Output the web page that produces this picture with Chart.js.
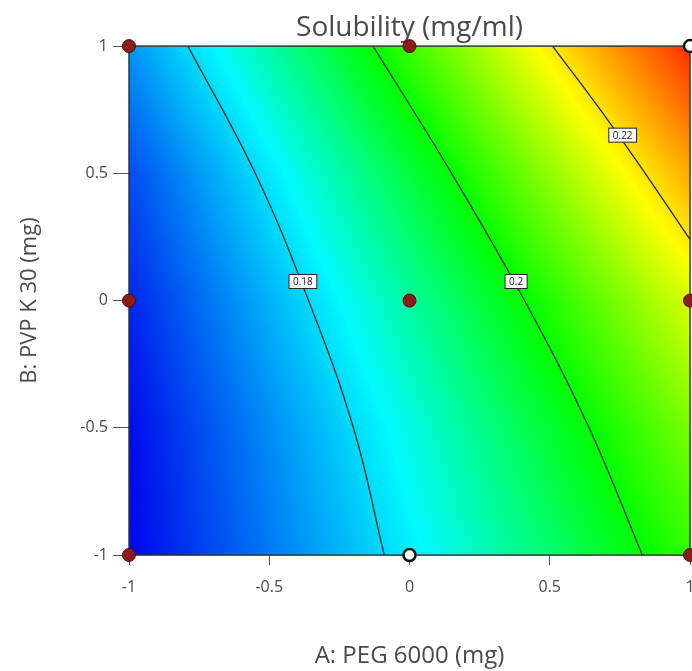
<!DOCTYPE html>
<html>
<head>
<meta charset="utf-8">
<script src="https://cdn.jsdelivr.net/npm/chart.js@4.4.1/dist/chart.umd.min.js"></script>
<style>
  body { margin: 0; overflow: hidden; background: #fff; }
  #wrap { width: 740px; height: 671px; }
</style>
</head>
<body>
<div id="wrap"><canvas id="my-chart"></canvas></div>
<script>
// coded factor levels of the grid
const gridA = [-1, -0.5, 0, 0.5, 1];
const gridB = [-1, -0.5, 0, 0.5, 1];
// solubility (mg/ml) read at the grid nodes, rows = B from -1 to 1, columns = A
const solubility = [
  [0.1603, 0.1711, 0.1819, 0.1927, 0.2035],
  [0.1610, 0.1729, 0.1848, 0.1967, 0.2086],
  [0.1634, 0.1764, 0.1894, 0.2023, 0.2153],
  [0.1670, 0.1814, 0.1958, 0.2102, 0.2246],
  [0.1736, 0.1888, 0.2041, 0.2194, 0.2346]
];

// contour lines
const contourLevels = ['0.18', '0.2', '0.22'];
const contour018A = [-0.79, -0.55, -0.36, -0.20, -0.09];
const contour018B = [1, 0.5, 0, -0.5, -1];
const contour020A = [-0.13, 0.15, 0.41, 0.64, 0.83];
const contour020B = [1, 0.5, 0, -0.5, -1];
const contour022A = [0.51, 0.68, 0.84, 1];
const contour022B = [1, 0.75, 0.5, 0.24];
const labelA = [-0.38, 0.38, 0.76];
const labelB = [0.075, 0.075, 0.65];

// design points
const runA = [-1, 0, 1, -1, 0, 1, -1, 0, 1];
const runB = [1, 1, 1, 0, 0, 0, -1, -1, -1];
const runType = ['dot', 'dot', 'open', 'dot', 'dot', 'dot', 'dot', 'open', 'dot'];

const tickValues = [-1, -0.5, 0, 0.5, 1];

// colour ramp blue -> cyan -> green -> yellow -> red
const ramp = [
  [0.160, [0, 0, 235]],
  [0.183, [0, 250, 255]],
  [0.200, [0, 255, 0]],
  [0.218, [255, 255, 0]],
  [0.235, [255, 40, 0]]
];

function colorFor(v) {
  if (v <= ramp[0][0]) return ramp[0][1];
  for (let i = 1; i < ramp.length; i++) {
    if (v <= ramp[i][0]) {
      const t = (v - ramp[i - 1][0]) / (ramp[i][0] - ramp[i - 1][0]);
      const c0 = ramp[i - 1][1], c1 = ramp[i][1];
      return [c0[0] + (c1[0] - c0[0]) * t, c0[1] + (c1[1] - c0[1]) * t, c0[2] + (c1[2] - c0[2]) * t];
    }
  }
  return ramp[ramp.length - 1][1];
}

function lookup(a, b) {
  const n = gridA.length - 1;
  let fi = (a - gridA[0]) / (gridA[n] - gridA[0]) * n;
  let fj = (b - gridB[0]) / (gridB[n] - gridB[0]) * n;
  fi = Math.min(Math.max(fi, 0), n); fj = Math.min(Math.max(fj, 0), n);
  const i = Math.min(Math.floor(fi), n - 1), j = Math.min(Math.floor(fj), n - 1);
  const u = fi - i, w = fj - j;
  const s = solubility;
  return s[j][i] * (1 - u) * (1 - w) + s[j][i + 1] * u * (1 - w) +
         s[j + 1][i] * (1 - u) * w + s[j + 1][i + 1] * u * w;
}

const surfacePlugin = {
  id: 'surface',
  beforeDatasetsDraw(chart) {
    const { ctx, chartArea: a, scales } = chart;
    const w = Math.round(a.right - a.left), h = Math.round(a.bottom - a.top);
    const off = document.createElement('canvas');
    off.width = w; off.height = h;
    const octx = off.getContext('2d');
    const img = octx.createImageData(w, h);
    for (let j = 0; j < h; j++) {
      const vb = scales.y.getValueForPixel(a.top + j + 0.5);
      for (let i = 0; i < w; i++) {
        const va = scales.x.getValueForPixel(a.left + i + 0.5);
        const c = colorFor(lookup(va, vb));
        const k = (j * w + i) * 4;
        img.data[k] = c[0]; img.data[k + 1] = c[1]; img.data[k + 2] = c[2]; img.data[k + 3] = 255;
      }
    }
    octx.putImageData(img, 0, 0);
    ctx.drawImage(off, a.left, a.top);
    ctx.save();
    ctx.strokeStyle = '#2f3b33';
    ctx.lineWidth = 1.5;
    ctx.strokeRect(a.left, a.top, w, h);
    ctx.restore();
  },
  afterDatasetsDraw(chart) {
    const { ctx, scales } = chart;
    ctx.save();
    ctx.font = '10px "Open Sans"';
    ctx.textAlign = 'center';
    ctx.textBaseline = 'middle';
    contourLevels.forEach((txt, i) => {
      const px = scales.x.getPixelForValue(labelA[i]);
      const py = scales.y.getPixelForValue(labelB[i]);
      const tw = ctx.measureText(txt).width + 8;
      ctx.fillStyle = '#ffffff';
      ctx.fillRect(px - tw / 2, py - 7, tw, 14);
      ctx.strokeStyle = '#222';
      ctx.lineWidth = 1;
      ctx.strokeRect(px - tw / 2, py - 7, tw, 14);
      ctx.fillStyle = '#222';
      ctx.fillText(txt, px, py + 0.5);
    });
    ctx.restore();
  }
};

function contourSet(xs, ys) {
  return {
    type: 'line',
    data: xs.map((v, i) => ({ x: v, y: ys[i] })),
    borderColor: '#1f2b24',
    borderWidth: 1.3,
    pointRadius: 0,
    tension: 0.4,
    fill: false
  };
}

const textColor = '#4a4a4a';

new Chart(document.getElementById('my-chart'), {
  type: 'scatter',
  data: {
    datasets: [
      contourSet(contour018A, contour018B),
      contourSet(contour020A, contour020B),
      contourSet(contour022A, contour022B),
      {
        type: 'scatter',
        data: runA.map((v, i) => ({ x: v, y: runB[i] })),
        pointRadius: runType.map(t => t === 'dot' ? 6.5 : 6),
        pointBackgroundColor: runType.map(t => t === 'dot' ? '#8c1b1b' : '#ffffff'),
        pointBorderColor: runType.map(t => t === 'dot' ? '#4d0f0f' : '#111111'),
        pointBorderWidth: runType.map(t => t === 'dot' ? 1 : 2.5),
        clip: false
      }
    ]
  },
  options: {
    responsive: true,
    maintainAspectRatio: false,
    animation: false,
    layout: { padding: { left: 0, right: 50, top: 0, bottom: 0 } },
    plugins: {
      legend: { display: false },
      tooltip: { enabled: false },
      title: {
        display: true,
        fullSize: false,
        text: 'Solubility (mg/ml)',
        color: textColor,
        font: { family: 'Open Sans', size: 28, weight: 'normal' },
        padding: { top: 11, bottom: 1.5 }
      }
    },
    scales: {
      x: {
        type: 'linear',
        min: -1, max: 1,
        afterFit: s => { s.height = 116; },
        afterBuildTicks: s => { s.ticks = tickValues.map(v => ({ value: v })); },
        ticks: {
          callback: v => String(v),
          color: textColor,
          font: { family: 'Open Sans', size: 16 },
          padding: 13,
          maxRotation: 0
        },
        grid: { drawOnChartArea: false, drawTicks: true, tickLength: 10, color: '#555' },
        border: { display: false },
        title: {
          display: true,
          text: 'A: PEG 6000 (mg)',
          color: textColor,
          font: { family: 'Open Sans', size: 24 },
          padding: { top: 0, bottom: 0 }
        }
      },
      y: {
        type: 'linear',
        min: -1, max: 1,
        afterFit: s => { s.width = 129; },
        afterBuildTicks: s => { s.ticks = tickValues.map(v => ({ value: v })); },
        ticks: {
          callback: v => String(v),
          color: textColor,
          font: { family: 'Open Sans', size: 16 },
          padding: 5
        },
        grid: { drawOnChartArea: false, drawTicks: true, tickLength: 16, color: '#555' },
        border: { display: false },
        title: {
          display: true,
          text: 'B: PVP K 30 (mg)',
          color: textColor,
          font: { family: 'Open Sans', size: 22 },
          padding: { top: 17, bottom: 0 }
        }
      }
    }
  },
  plugins: [surfacePlugin]
});
</script>
</body>
</html>
